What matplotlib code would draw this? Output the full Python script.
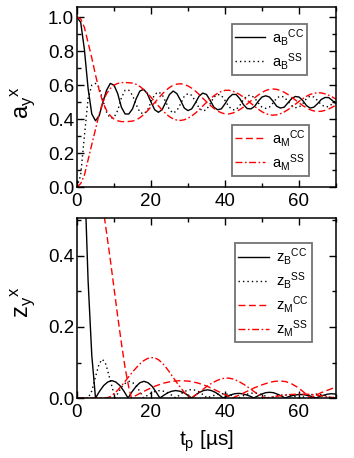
import numpy as np
import matplotlib
matplotlib.use('Agg')
import matplotlib.pyplot as plt

plt.rcParams['font.family'] = ['Liberation Sans', 'DejaVu Sans']
plt.rcParams['mathtext.fontset'] = 'custom'
plt.rcParams['mathtext.rm'] = 'Liberation Sans'
plt.rcParams['mathtext.it'] = 'Liberation Sans'

# ---- top panel: a_y^x, sampled every 1 us
t_a = np.arange(0, 71, 1)
aB_cc = [1.0, 0.97, 0.81, 0.58, 0.43, 0.39, 0.42, 0.50, 0.57, 0.61,
         0.60, 0.55, 0.47, 0.43, 0.43, 0.46, 0.52, 0.565, 0.575, 0.55,
         0.50, 0.455, 0.44, 0.455, 0.50, 0.545, 0.565, 0.55, 0.51, 0.465,
         0.45, 0.46, 0.495, 0.535, 0.553, 0.545, 0.51, 0.47, 0.455, 0.46,
         0.49, 0.525, 0.545, 0.545, 0.52, 0.485, 0.462, 0.46, 0.475, 0.505,
         0.53, 0.537, 0.53, 0.505, 0.475, 0.465, 0.47, 0.495, 0.52, 0.533,
         0.53, 0.51, 0.48, 0.465, 0.47, 0.49, 0.515, 0.527, 0.527, 0.51,
         0.49]
aB_ss = [0.0, 0.07, 0.30, 0.52, 0.60, 0.61, 0.585, 0.51, 0.44, 0.405,
         0.41, 0.45, 0.525, 0.57, 0.57, 0.54, 0.485, 0.44, 0.43, 0.45,
         0.50, 0.545, 0.56, 0.545, 0.50, 0.455, 0.435, 0.45, 0.49, 0.535,
         0.55, 0.54, 0.505, 0.465, 0.447, 0.455, 0.49, 0.53, 0.545, 0.54,
         0.51, 0.475, 0.455, 0.455, 0.48, 0.515, 0.538, 0.54, 0.525, 0.495,
         0.47, 0.463, 0.47, 0.495, 0.525, 0.535, 0.53, 0.505, 0.48, 0.467,
         0.47, 0.49, 0.52, 0.535, 0.53, 0.51, 0.485, 0.473, 0.473, 0.49,
         0.51]
aM_cc = [1.0, 0.99, 0.94, 0.85, 0.76, 0.66, 0.57, 0.50, 0.45, 0.42,
         0.40, 0.39, 0.385, 0.385, 0.386, 0.388, 0.395, 0.408, 0.426, 0.447,
         0.472, 0.497, 0.522, 0.547, 0.568, 0.586, 0.599, 0.606, 0.608, 0.604,
         0.595, 0.582, 0.565, 0.545, 0.523, 0.502, 0.481, 0.463, 0.448, 0.437,
         0.431, 0.430, 0.435, 0.443, 0.456, 0.471, 0.489, 0.507, 0.525, 0.542,
         0.557, 0.568, 0.575, 0.577, 0.575, 0.568, 0.558, 0.545, 0.529, 0.513,
         0.496, 0.480, 0.466, 0.455, 0.448, 0.445, 0.446, 0.451, 0.459, 0.470,
         0.483]
aM_ss = [0.0, 0.02, 0.07, 0.16, 0.25, 0.34, 0.43, 0.50, 0.55, 0.58,
         0.60, 0.61, 0.615, 0.615, 0.614, 0.612, 0.605, 0.592, 0.574, 0.553,
         0.528, 0.503, 0.478, 0.453, 0.432, 0.414, 0.401, 0.394, 0.392, 0.396,
         0.405, 0.418, 0.435, 0.455, 0.477, 0.498, 0.519, 0.537, 0.552, 0.563,
         0.569, 0.570, 0.565, 0.557, 0.544, 0.529, 0.511, 0.493, 0.475, 0.458,
         0.443, 0.432, 0.425, 0.423, 0.425, 0.432, 0.442, 0.455, 0.471, 0.487,
         0.504, 0.520, 0.534, 0.545, 0.552, 0.555, 0.554, 0.549, 0.541, 0.530,
         0.517]

# ---- bottom panel: z_y^x
t_zB_cc = [0, 1, 2, 3, 4, 5.0,
           6.1, 7.2, 8.3, 9.4, 10.5, 11.6, 12.7, 13.8,
           14.9, 16.0, 17.0, 18.1, 19.2, 20.3, 21.3, 22.4,
           23.5, 24.6, 25.6, 26.7, 27.8, 28.9, 29.9, 31.0,
           32.1, 33.1, 34.2, 35.3, 36.3, 37.4, 38.4, 39.5,
           40.5, 41.6, 42.6, 43.7, 44.7, 45.7, 46.8, 47.8,
           48.9, 49.9, 51.0, 52.0, 53.1, 54.1, 55.2, 56.2,
           57.3, 58.3, 59.4, 60.4, 61.5, 62.5, 63.6, 64.6,
           65.7, 66.7, 67.8, 68.8, 69.9, 70.9]
zB_cc = [1.0, 0.95, 0.64, 0.33, 0.12, 0.0,
         0.019, 0.035, 0.045, 0.049, 0.045, 0.035, 0.019, 0.0,
         0.018, 0.033, 0.043, 0.047, 0.043, 0.033, 0.018, 0.0,
         0.008, 0.015, 0.019, 0.021, 0.019, 0.015, 0.008, 0.0,
         0.009, 0.016, 0.021, 0.023, 0.021, 0.016, 0.009, 0.0,
         0.005, 0.009, 0.012, 0.013, 0.012, 0.009, 0.005, 0.0,
         0.006, 0.011, 0.015, 0.016, 0.015, 0.011, 0.006, 0.0,
         0.004, 0.007, 0.009, 0.010, 0.009, 0.007, 0.004, 0.0,
         0.005, 0.008, 0.011, 0.012, 0.011, 0.008]

t_zB_ss = [0, 3.0, 4.0, 5.0, 6.0, 6.9, 7.8, 8.6, 9.5, 10.3,
           11.3, 12.2, 13.2, 14.15, 15.1, 16.1, 17.0, 18.0,
           19.1, 20.2, 21.3, 22.35, 23.4, 24.5, 25.6, 26.7,
           27.8, 28.8, 29.9, 30.95, 32.0, 33.1, 34.1, 35.2,
           36.3, 37.3, 38.4, 39.4, 40.5, 41.5, 42.6, 43.6,
           44.7, 45.7, 46.8, 47.8, 48.9, 49.9, 51.0, 52.0,
           53.1, 54.1, 55.2, 56.2, 57.3, 58.3, 59.4, 60.4,
           61.5, 62.5, 63.6, 64.6, 65.7, 66.7, 67.8, 68.8,
           69.9, 70.9]
zB_ss = [0.0, 0.0, 0.02, 0.06, 0.097, 0.109, 0.095, 0.065, 0.03, 0.0,
         0.018, 0.033, 0.043, 0.047, 0.043, 0.033, 0.018, 0.0,
         0.008, 0.015, 0.019, 0.021, 0.019, 0.015, 0.008, 0.0,
         0.009, 0.017, 0.022, 0.024, 0.022, 0.017, 0.009, 0.0,
         0.005, 0.008, 0.011, 0.012, 0.011, 0.008, 0.005, 0.0,
         0.005, 0.010, 0.013, 0.014, 0.013, 0.010, 0.005, 0.0,
         0.003, 0.006, 0.008, 0.009, 0.008, 0.006, 0.003, 0.0,
         0.004, 0.008, 0.010, 0.011, 0.010, 0.008, 0.004, 0.0,
         0.003, 0.006]

t_zM_cc = [0, 1, 2, 3, 4, 5, 6, 7, 8, 9, 10, 11, 12, 13, 14, 14.7,
           16.9, 19.2, 21.4, 23.6, 25.9, 28.1, 30.3, 32.6, 34.8, 37.0, 39.3, 42.0,
           44, 46, 48, 50, 52, 53.5, 55, 56.5, 58, 59.5, 61, 62, 63,
           64, 65, 66, 67, 68, 69, 70]
zM_cc = [1.0, 0.99, 0.96, 0.91, 0.83, 0.73, 0.62, 0.54, 0.465, 0.39,
         0.31, 0.23, 0.155, 0.085, 0.03, 0.0,
         0.0127, 0.0245, 0.0346, 0.0424, 0.0473, 0.049, 0.0473, 0.0424,
         0.0346, 0.0245, 0.0127, 0.0,
         0.009, 0.019, 0.029, 0.037, 0.044, 0.047, 0.048, 0.046, 0.040,
         0.031, 0.019, 0.010, 0.0,
         0.005, 0.010, 0.015, 0.019, 0.023, 0.027, 0.031]

t_zM_ss = [0, 8, 9, 10, 11, 12, 13, 14, 15, 16, 17, 18, 19, 20, 21, 22,
           23, 24, 25, 26, 27, 28, 29, 30, 31,
           32, 33, 34, 35, 36, 37, 38, 39, 40, 41, 42, 43, 44, 45, 46,
           47, 48, 49, 50, 51,
           52, 54, 56, 58, 60, 62, 64, 66, 68, 70]
zM_ss = [0.0, 0.0, 0.004, 0.012, 0.022, 0.034, 0.047, 0.060, 0.073, 0.085,
         0.096, 0.105, 0.111, 0.114, 0.113, 0.108, 0.099, 0.087, 0.073,
         0.058, 0.043, 0.029, 0.016, 0.006, 0.0,
         0.008, 0.016, 0.024, 0.032, 0.039, 0.045, 0.050, 0.054, 0.056,
         0.056, 0.054, 0.050, 0.045, 0.039, 0.032, 0.025, 0.017, 0.010,
         0.004, 0.0,
         0.002, 0.005, 0.008, 0.010, 0.011, 0.011, 0.009, 0.006, 0.003, 0.0]

RED = '#ff0000'
dot = (0, (1, 2.2))
dash = (0, (5, 2.5))
dashdot = (0, (5, 1.8, 1.2, 1.8))
lw = 1.0

fig = plt.figure(figsize=(3.54, 4.58), dpi=100)
ax1 = fig.add_axes([0.2175, 0.5917, 0.7316, 0.393])
ax2 = fig.add_axes([0.2175, 0.131, 0.7316, 0.393])

l1, = ax1.plot(t_a, aB_cc, color='k', lw=lw, ls='-')
l2, = ax1.plot(t_a, aB_ss, color='k', lw=lw, ls=dot)
l3, = ax1.plot(t_a, aM_cc, color=RED, lw=lw, ls=dash)
l4, = ax1.plot(t_a, aM_ss, color=RED, lw=lw, ls=dashdot)

m1, = ax2.plot(t_zB_cc, zB_cc, color='k', lw=lw, ls='-')
m2, = ax2.plot(t_zB_ss, zB_ss, color='k', lw=lw, ls=dot)
m3, = ax2.plot(t_zM_cc, zM_cc, color=RED, lw=lw, ls=dash)
m4, = ax2.plot(t_zM_ss, zM_ss, color=RED, lw=lw, ls=dashdot)

for ax in (ax1, ax2):
    ax.set_xlim(0, 70)
    ax.set_xticks([0, 20, 40, 60])
    ax.set_xticks(np.arange(0, 71, 10), minor=True)
    ax.tick_params(which='both', direction='in', top=True, right=True,
                   labelsize=13.5, width=1.0)
    ax.tick_params(which='major', length=5)
    ax.tick_params(which='minor', length=3)
    ax.tick_params(axis='y', pad=2)
    ax.tick_params(axis='x', pad=4)
    for s in ax.spines.values():
        s.set_linewidth(1.1)

ax1.set_ylim(0, 1.06)
ax1.set_yticks([0.0, 0.2, 0.4, 0.6, 0.8, 1.0])
ax1.set_yticks(np.arange(0, 1.05, 0.1), minor=True)
ax1.set_yticklabels(['0.0', '0.2', '0.4', '0.6', '0.8', '1.0'])

ax2.set_ylim(0, 0.507)
ax2.set_yticks([0.0, 0.2, 0.4])
ax2.set_yticks(np.arange(0, 0.51, 0.1), minor=True)
ax2.set_yticklabels(['0.0', '0.2', '0.4'])

ax1.set_ylabel(r'$\mathregular{a_y{}^x}$', fontsize=17)
ax2.set_ylabel(r'$\mathregular{z_y{}^x}$', fontsize=17)
ax1.yaxis.set_label_coords(-0.155, 0.47)
ax2.yaxis.set_label_coords(-0.155, 0.53)
ax2.set_xlabel(r'$\mathregular{t_p}$ [µs]', fontsize=15, labelpad=6)

leg_kw = dict(fontsize=10.5, frameon=True, fancybox=False, edgecolor='0.45',
              framealpha=1, borderaxespad=0, handlelength=2.1,
              handletextpad=0.5, borderpad=0.2, labelspacing=0.2,
              loc='upper left')

lg1 = ax1.legend([l1, l2], [r'$\mathregular{a_B{}^{CC}}$', r'$\mathregular{a_B{}^{SS}}$'],
                 bbox_to_anchor=(0.597, 0.906), **leg_kw)
lg1.get_frame().set_linewidth(1.3)
ax1.add_artist(lg1)
lg2 = ax1.legend([l3, l4], [r'$\mathregular{a_M{}^{CC}}$', r'$\mathregular{a_M{}^{SS}}$'],
                 bbox_to_anchor=(0.597, 0.344), **leg_kw)
lg2.get_frame().set_linewidth(1.3)

lg3 = ax2.legend([m1, m2, m3, m4],
                 [r'$\mathregular{z_B{}^{CC}}$', r'$\mathregular{z_B{}^{SS}}$',
                  r'$\mathregular{z_M{}^{CC}}$', r'$\mathregular{z_M{}^{SS}}$'],
                 bbox_to_anchor=(0.61, 0.859), **leg_kw)
lg3.get_frame().set_linewidth(1.3)

fig.savefig('out.png', dpi=100)
